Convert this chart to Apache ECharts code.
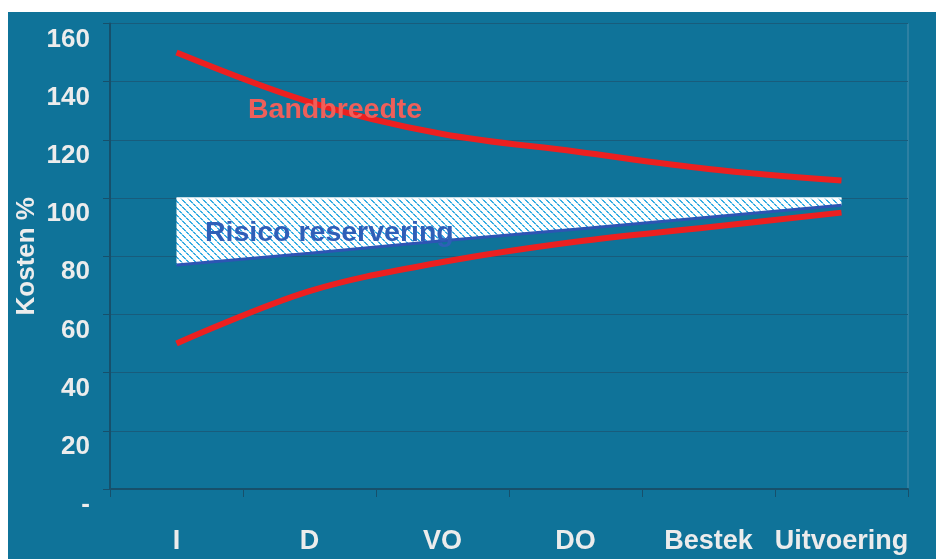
<!DOCTYPE html>
<html>
<head>
<meta charset="utf-8">
<script src="https://cdn.jsdelivr.net/npm/echarts@6/dist/echarts.min.js"></script>
<style>
  html, body { margin: 0; padding: 0; background: #ffffff; }
  #wrap { position: relative; width: 936px; height: 559px; background: #ffffff; overflow: hidden; }
  #chart { position: absolute; left: 8px; top: 12px; width: 928px; height: 547px; }
</style>
</head>
<body>
<div id="wrap"><div id="chart"></div></div>
<script>
// Project phases
const phases = ['I', 'D', 'VO', 'DO', 'Bestek', 'Uitvoering'];

// Cost bandwidth (% of final cost): upper and lower estimate
const bandUpper = [150, 133, 122, 116, 110, 106];
const bandLower = [50, 68, 78, 85, 90, 95];

// Risk reservation: from the base estimate up to the 100% level
const riskLower = [77, 81, 85.3, 89.3, 93.4, 97.5];
const riskUpper = [100, 100, 100, 100, 100, 100];

// Value axis tick labels (0 is written as a dash)
const yTickLabels = ['-', '20', '40', '60', '80', '100', '120', '140', '160'];

const FONT = "'Liberation Sans', Arial, sans-serif";
const BG = '#0f7399';

// Hatch fill for the risk band: white with dotted light-blue "\" diagonals
function makeHatch() {
  const n = 7;
  const c = document.createElement('canvas');
  c.width = n; c.height = n;
  const g = c.getContext('2d');
  g.fillStyle = '#ffffff';
  g.fillRect(0, 0, n, n);
  for (let y = 0; y < n; y++) {
    for (let x = 0; x < n; x++) {
      const d = ((x - y) % n + n) % n;
      if (d === 0 || d === 1) {
        g.fillStyle = (y % 3 === 2) ? '#9fd8f0' : '#38ade3';
        g.fillRect(x, y, 1, 1);
      }
    }
  }
  return c;
}

const riskSpan = riskUpper.map((v, i) => v - riskLower[i]);

const chart = echarts.init(document.getElementById('chart'), null, { renderer: 'canvas' });

chart.setOption({
  backgroundColor: BG,
  animation: false,
  textStyle: { fontFamily: FONT },
  grid: {
    left: 102, right: 28, top: 11.5, bottom: 70,
    containLabel: false,
    outerBoundsMode: 'none',
    show: true, borderColor: '#4f8eac', borderWidth: 1, backgroundColor: 'transparent'
  },
  xAxis: {
    type: 'category',
    data: phases,
    boundaryGap: true,
    axisLine: { show: true, lineStyle: { color: '#17506b', width: 2 } },
    axisTick: { show: true, interval: 0, length: 8, lineStyle: { color: '#17506b', width: 1 } },
    axisLabel: {
      interval: 0,
      color: '#ececec', fontSize: 27, fontWeight: 'bold', fontFamily: FONT,
      margin: 53, verticalAlign: 'middle', hideOverlap: false
    },
    splitLine: { show: false }
  },
  yAxis: {
    type: 'value',
    min: 0, max: 160, interval: 20,
    name: 'Kosten %',
    nameLocation: 'middle',
    nameGap: 70,
    nameMoveOverlap: false,
    nameRotate: 90,
    nameTextStyle: { color: '#ececec', fontSize: 26, fontWeight: 'bold', fontFamily: FONT },
    axisLine: { show: true, lineStyle: { color: '#17506b', width: 2 } },
    axisTick: { show: true, length: 7, lineStyle: { color: '#17506b', width: 1 } },
    axisLabel: {
      color: '#ececec', fontSize: 26, fontWeight: 'bold', fontFamily: FONT,
      margin: 20, verticalAlign: 'top', lineHeight: 32,
      formatter: (v) => yTickLabels[Math.round(v / 20)]
    },
    splitLine: { show: true, lineStyle: { color: '#185c7c', width: 1 } }
  },
  series: [
    {
      name: 'Risico basis',
      type: 'line',
      stack: 'risk',
      data: riskLower,
      symbol: 'none',
      lineStyle: { color: '#2d55b4', width: 3 },
      z: 4
    },
    {
      name: 'Risico reservering',
      type: 'line',
      stack: 'risk',
      data: riskSpan,
      symbol: 'none',
      lineStyle: { color: '#ffffff', width: 1.5 },
      areaStyle: { color: { image: makeHatch(), repeat: 'repeat' }, opacity: 1 },
      z: 3
    },
    {
      name: 'Bandbreedte boven',
      type: 'line',
      data: bandUpper,
      smooth: 0.35,
      symbol: 'none',
      lineStyle: { color: '#ec2020', width: 6 },
      z: 5
    },
    {
      name: 'Bandbreedte onder',
      type: 'line',
      data: bandLower,
      smooth: 0.35,
      symbol: 'none',
      lineStyle: { color: '#ec2020', width: 6 },
      z: 5
    }
  ],
  graphic: [
    {
      type: 'text', left: 240, top: 84, z: 10,
      style: { text: 'Bandbreedte', fill: '#ef5f5a', font: "bold 28.5px " + FONT }
    },
    {
      type: 'text', left: 197, top: 207, z: 10,
      style: { text: 'Risico reservering', fill: '#2f5fb8', font: "bold 28.5px " + FONT }
    }
  ]
});
</script>
</body>
</html>
